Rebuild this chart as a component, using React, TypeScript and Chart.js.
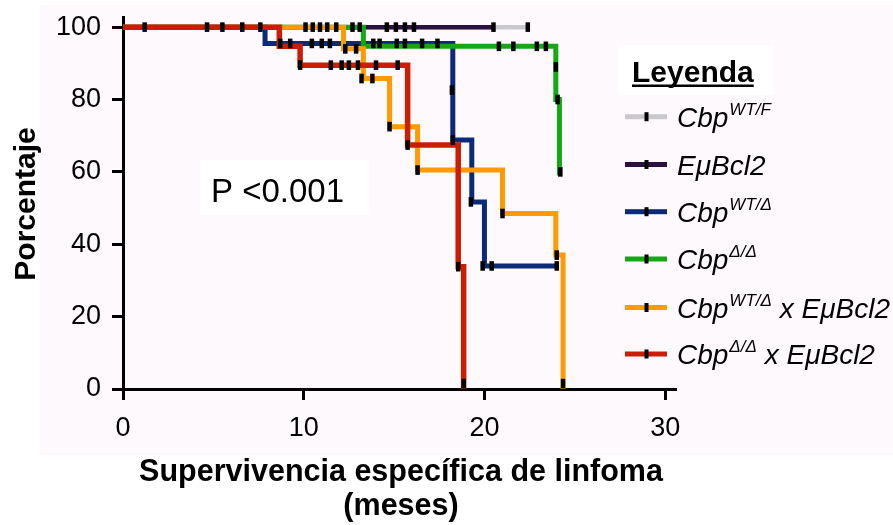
import React, { useEffect, useRef } from "react";
import { Chart, registerables } from "chart.js";

Chart.register(...registerables);

// ---- Axis ticks ----
const xTicks = [0, 10, 20, 30];
const yTicks = [0, 20, 40, 60, 80, 100];

// ---- Kaplan–Meier step curves (months, % survival) ----
const grayTimes = [0, 22.4];
const graySurv = [100, 100];
const purpleTimes = [0, 20.5];
const purpleSurv = [100, 100];
const blueTimes = [0, 7.86, 18.25, 19.3, 20.0, 24.0];
const blueSurv = [100, 95.5, 68.8, 51.7, 34.0, 34.0];
const greenTimes = [0, 13.3, 23.95, 24.15];
const greenSurv = [100, 94.7, 80, 59];
const orangeTimes = [0, 12.2, 13.3, 14.75, 16.3, 21.0, 23.95, 24.35];
const orangeSurv = [100, 94, 85.8, 72.5, 60.5, 48.5, 37, 0];
const redTimes = [0, 8.65, 9.8, 15.75, 18.55, 18.85];
const redSurv = [100, 94.7, 89.5, 67.4, 33.8, 0];

// ---- Censored observations ----
const grayCensorT = [12.7, 15.1, 22.4];
const grayCensorS = [100, 100, 100];
const purpleCensorT = [10.5, 11.3, 13.1, 14.6, 15.6, 16.1, 20.5];
const purpleCensorS = [100, 100, 100, 100, 100, 100, 100];
const blueCensorT = [8.7, 9.25, 10.45, 11.0, 11.45, 13.85, 14.2, 15.15, 15.6, 16.55, 17.4, 18.2, 18.25, 19.25, 19.9, 20.4, 24.0];
const blueCensorS = [95.5, 95.5, 95.5, 95.5, 95.5, 95.5, 95.5, 95.5, 95.5, 95.5, 95.5, 82.6, 68.8, 51.7, 34, 34, 34];
const greenCensorT = [20.8, 21.6, 22.9, 23.4, 23.95, 24.05, 24.2];
const greenCensorS = [94.7, 94.7, 94.7, 94.7, 89, 80, 60];
const orangeCensorT = [10.1, 10.9, 11.8, 12.3, 12.9, 13.2, 13.8, 14.75, 16.3, 21.0, 24.0, 24.35];
const orangeCensorS = [100, 100, 100, 94, 94, 85.8, 85.8, 72.5, 60.5, 48.5, 37, 1.5];
const redCensorT = [1.2, 4.65, 5.5, 6.6, 7.6, 9.8, 11.5, 12.1, 12.5, 13.0, 14.0, 15.2, 15.75, 18.55, 18.85];
const redCensorS = [100, 100, 100, 100, 100, 89.5, 89.5, 89.5, 89.5, 89.5, 89.5, 89.5, 67.4, 33.8, 1.5];

// ---- Legend ----
const legendTitle = "Leyenda";
const legendColors = ["#c9c9cd", "#2c1040", "#0b2a78", "#14a814", "#ff9a00", "#cc1c02"];
const legendLabels: { t: string; sup?: boolean }[][] = [
  [{ t: "Cbp" }, { t: "WT/F", sup: true }],
  [{ t: "EμBcl2" }],
  [{ t: "Cbp" }, { t: "WT/Δ", sup: true }],
  [{ t: "Cbp" }, { t: "Δ/Δ", sup: true }],
  [{ t: "Cbp" }, { t: "WT/Δ", sup: true }, { t: " x EμBcl2" }],
  [{ t: "Cbp" }, { t: "Δ/Δ", sup: true }, { t: " x EμBcl2" }],
];
const pValueText = "P <0.001";
const yTitle = "Porcentaje";
const xTitleLines = ["Supervivencia específica de linfoma", "(meses)"];

const FONT = "'Liberation Sans', Arial, Helvetica, sans-serif";

const pts = (t: number[], s: number[]) => t.map((x, i) => ({ x, y: s[i] }));

const lineDs = (t: number[], s: number[], color: string, width: number, order: number) => ({
  type: "line" as const,
  data: pts(t, s),
  borderColor: color,
  backgroundColor: color,
  borderWidth: width,
  stepped: "before" as const,
  pointRadius: 0,
  fill: false,
  order,
});

const censorDs = (t: number[], s: number[]) => ({
  type: "line" as const,
  data: pts(t, s),
  showLine: false,
  pointStyle: "line" as const,
  rotation: 90,
  pointRadius: 4.8,
  pointBorderWidth: 4.5,
  pointBorderColor: "#000",
  pointBackgroundColor: "#000",
  order: 0,
});

const decorPlugin = {
  id: "decor",
  beforeDraw(chart: any) {
    const ctx = chart.ctx as CanvasRenderingContext2D;
    ctx.save();
    ctx.fillStyle = "#fff";
    ctx.fillRect(0, 0, chart.width, chart.height);
    ctx.fillStyle = "#fdf9fd";
    ctx.fillRect(40, 5, chart.width - 40, 450);
    ctx.fillStyle = "#ffffff";
    ctx.fillRect(618, 45, 155, 50);
    ctx.fillRect(200, 160, 170, 55);
    ctx.restore();
  },
  afterDraw(chart: any) {
    const ctx = chart.ctx as CanvasRenderingContext2D;
    ctx.save();
    ctx.fillStyle = "#000";

    // y axis title
    ctx.save();
    ctx.translate(35, 204);
    ctx.rotate(-Math.PI / 2);
    ctx.font = `bold 30px ${FONT}`;
    ctx.textAlign = "center";
    ctx.textBaseline = "alphabetic";
    ctx.fillText(yTitle, 0, 0);
    ctx.restore();

    // x axis title
    ctx.font = `bold 30.5px ${FONT}`;
    ctx.textAlign = "center";
    ctx.textBaseline = "alphabetic";
    ctx.fillText(xTitleLines[0], 401, 481);
    ctx.fillText(xTitleLines[1], 401, 515);

    // p value
    ctx.font = `33px ${FONT}`;
    ctx.textAlign = "left";
    ctx.fillText(pValueText, 211, 202);

    // legend title
    ctx.font = `bold 30px ${FONT}`;
    ctx.textAlign = "left";
    ctx.fillText(legendTitle, 632, 82);
    const w = ctx.measureText(legendTitle).width;
    ctx.fillRect(632, 84.5, w, 2.5);

    // legend items
    const rowY = [116.7, 164.5, 211.7, 259, 307.5, 354];
    legendLabels.forEach((parts, i) => {
      const y = rowY[i];
      ctx.fillStyle = legendColors[i];
      ctx.fillRect(625, y - 2.5, 42, 5);
      ctx.fillStyle = "#000";
      ctx.fillRect(644.5, y - 4.5, 4, 9);
      let x = 677;
      const base = y + 10;
      parts.forEach((p) => {
        if (p.sup) {
          ctx.font = `italic 17px ${FONT}`;
          ctx.fillText(p.t, x + 1, base - 12);
          x += ctx.measureText(p.t).width + 1;
        } else {
          ctx.font = `italic 28px ${FONT}`;
          ctx.fillText(p.t, x, base);
          x += ctx.measureText(p.t).width;
        }
      });
    });
    ctx.restore();
  },
};

export default function App() {
  const ref = useRef<HTMLCanvasElement | null>(null);
  useEffect(() => {
    if (!ref.current) return;
    const tickFont = { family: FONT, size: 27 };
    const chart = new Chart(ref.current, {
      type: "line",
      data: {
        datasets: [
          censorDs(redCensorT, redCensorS),
          censorDs(orangeCensorT, orangeCensorS),
          censorDs(greenCensorT, greenCensorS),
          censorDs(blueCensorT, blueCensorS),
          censorDs(purpleCensorT, purpleCensorS),
          censorDs(grayCensorT, grayCensorS),
          lineDs(redTimes, redSurv, legendColors[5], 5.5, 1),
          lineDs(orangeTimes, orangeSurv, legendColors[4], 5, 2),
          lineDs(greenTimes, greenSurv, legendColors[3], 5, 3),
          lineDs(blueTimes, blueSurv, legendColors[2], 5, 4),
          lineDs(purpleTimes, purpleSurv, legendColors[1], 4.5, 5),
          lineDs(grayTimes, graySurv, legendColors[0], 4.5, 6),
        ] as any,
      },
      options: {
        animation: false,
        responsive: false,
        events: [],
        layout: { padding: { left: 0, top: 17, right: 217, bottom: 0 } },
        plugins: { legend: { display: false }, tooltip: { enabled: false }, title: { display: false } },
        scales: {
          x: {
            type: "linear",
            min: 0,
            max: 30.6,
            afterBuildTicks: (s: any) => {
              s.ticks = xTicks.map((v) => ({ value: v }));
            },
            afterFit: (s: any) => {
              s.height = 136;
              s.paddingLeft = 0;
              s.paddingRight = 0;
            },
            grid: { display: true, drawOnChartArea: false, drawTicks: true, tickLength: 11, tickWidth: 3, tickColor: "#000", color: "#000" },
            border: { display: true, width: 3, color: "#000" },
            ticks: { font: tickFont, color: "#000", padding: 12, maxRotation: 0, autoSkip: false },
          },
          y: {
            type: "linear",
            min: 0,
            max: 102.8,
            afterBuildTicks: (s: any) => {
              s.ticks = yTicks.map((v) => ({ value: v }));
            },
            afterFit: (s: any) => {
              s.width = 123;
              s.paddingTop = 0;
              s.paddingBottom = 0;
            },
            grid: { display: true, drawOnChartArea: false, drawTicks: true, tickLength: 11, tickWidth: 3, tickColor: "#000", color: "#000" },
            border: { display: true, width: 3, color: "#000" },
            ticks: { font: tickFont, color: "#000", padding: 11 },
          },
        },
      },
      plugins: [decorPlugin],
    });
    return () => chart.destroy();
  }, []);
  return (
    <div style={{ position: "fixed", left: 0, top: 0, width: 893, height: 525 }}>
      <canvas ref={ref} width={893} height={525} style={{ display: "block" }} />
    </div>
  );
}
